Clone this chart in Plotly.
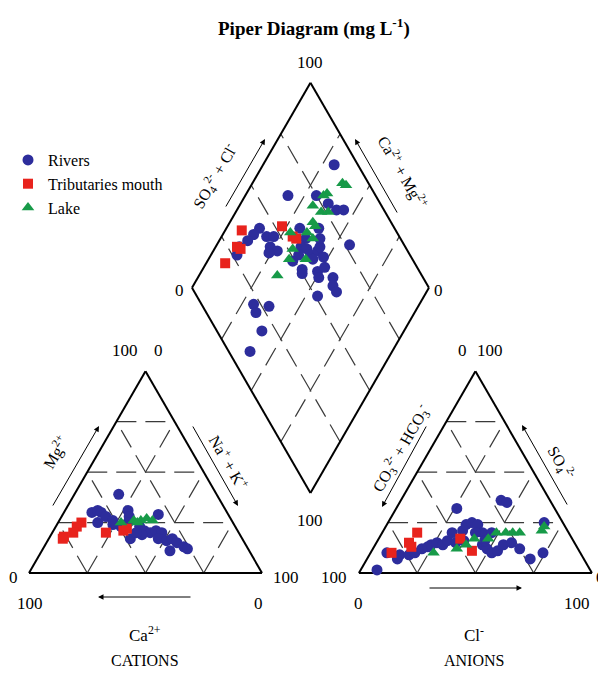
import math
import plotly.graph_objects as go

# ---------------- data (percentages) ----------------
# Cation triangle: Ca2+ %, Mg2+ %
rivers_ca = [42, 58, 55, 54, 53, 58, 51, 52, 42, 43, 45, 49, 48, 41, 40, 38, 30, 35, 33, 36, 33, 30, 34, 29, 27, 26, 42, 44]
rivers_mg = [39, 30, 31, 30, 28, 25, 26, 24, 31, 28, 25, 23, 17, 23, 21, 20, 29, 21, 20, 17, 16, 17, 11, 15, 13, 12, 19, 20]
trib_ca = [65, 68, 71, 76, 77, 57, 49, 47]
trib_mg = [25, 23, 20, 18, 17, 20, 21, 22]
lake_ca = [48, 42, 39, 36, 34, 41]
lake_mg = [25, 26, 26, 27, 26, 25]

# Anion triangle: Cl- %, SO4 2- %
rivers_cl = [7, 7, 13, 13, 17, 19, 21, 23, 24, 26, 29, 30, 30, 26, 34, 34, 34, 36, 39, 43, 40, 37, 46, 49, 52, 54, 43, 46, 55, 58, 63, 70, 74, 67, 47, 46]
rivers_so4 = [1.5, 10, 7, 9, 9, 10, 12, 13, 14, 15, 14, 16, 20, 32, 15, 21, 24, 25, 24, 20, 20, 16, 14, 12, 10, 11, 36, 35, 14, 15, 12, 7, 10, 25, 20, 16]
trib_cl = [15, 14, 16, 9, 35, 43]
trib_so4 = [20, 15, 13, 10, 17, 11]
lake_cl = [27, 36, 39, 47, 49, 53, 56, 59, 68, 68, 41]
lake_so4 = [10, 12, 14, 17, 20, 20, 20, 20, 21, 23, 17]

# Diamond: SO4+Cl %, Ca+Mg %
rivers_an = [90, 63, 75, 78, 80, 83, 43, 39, 35, 30, 27, 44, 47, 43, 45, 41, 60, 60, 56, 58, 58, 62, 64, 66, 68, 63, 58, 53, 49, 77, 51, 57, 61, 62, 50, 56, 60, 60, 51, 22, 28, 21, 19, 9]
rivers_cat = [70, 82, 70, 63, 58, 55, 86, 87, 88, 90, 89, 81, 78, 77, 73, 76, 69, 64, 64, 61, 58, 56, 56, 58, 61, 52, 56, 63, 64, 44, 58, 51, 49, 43, 57, 49, 41, 38, 45, 70, 63, 67, 60, 60]
trib_an = [35, 53, 29, 30, 20, 55, 56]
trib_cat = [93, 77, 91, 89, 92, 70, 68]
lake_an = [89, 90, 80, 78, 71, 73, 76, 67, 55, 62, 67, 63, 52, 48, 55, 39]
lake_cat = [62, 60, 66, 67, 69, 64, 61, 65, 72, 65, 63, 61, 67, 66, 59, 67]

tick_lo, tick_hi = "0", "100"
grid_fracs = [0.25, 0.5, 0.75]

# ---------------- geometry ----------------
WIN_W, WIN_H = 606, 677
PAD = 8                       # default page margin around the plot div
W, Hfig = WIN_W - PAD, WIN_H - PAD
K = 2.33                      # px per unit
OX, OY = 29 - PAD, 573 - PAD  # pixel of cation-triangle bottom-left (figure px)
S = 100.0
H = S * math.sqrt(3) / 2
GAP = 41.6
X2 = S + GAP
SD = 101.7
DW = SD / 2
DH = SD * math.sqrt(3) / 2
BX, BY = S + GAP / 2, 34.3


def cat_xy(ca, mg):
    xs = [S * (1 - c / 100 - m / 200) for c, m in zip(ca, mg)]
    ys = [H * m / 100 for m in mg]
    return xs, ys


def an_xy(cl, so4):
    xs = [X2 + S * (c / 100 + s / 200) for c, s in zip(cl, so4)]
    ys = [H * s / 100 for s in so4]
    return xs, ys


def dia_xy(a, c):
    xs = [BX + (p / 100 - q / 100) * DW for p, q in zip(a, c)]
    ys = [BY + (p / 100 + q / 100) * DH for p, q in zip(a, c)]
    return xs, ys


def dpt(a, c):
    return BX + (a - c) * DW, BY + (a + c) * DH


fig = go.Figure()

groups = [
    ("Rivers", rivers_ca, rivers_mg, rivers_cl, rivers_so4, rivers_an, rivers_cat,
     dict(symbol="circle", size=11, color="#2d2d9c")),
    ("Tributaries mouth", trib_ca, trib_mg, trib_cl, trib_so4, trib_an, trib_cat,
     dict(symbol="square", size=10, color="#e8231d")),
    ("Lake", lake_ca, lake_mg, lake_cl, lake_so4, lake_an, lake_cat,
     dict(symbol="triangle-up", size=11, color="#179a48")),
]
for name, ca, mg, cl, so4, an, cat, mk in groups:
    x1, y1 = cat_xy(ca, mg)
    x2, y2 = an_xy(cl, so4)
    x3, y3 = dia_xy(an, cat)
    fig.add_trace(go.Scatter(
        x=x1 + x2 + x3, y=y1 + y2 + y3, mode="markers", name=name,
        legendgroup=name, marker=dict(line=dict(width=0), **mk)))

shapes = []
solid = dict(color="black", width=2)
dashed = dict(color="#3a3a3a", width=1.2, dash="20px,9px")


def seg(p, q, line):
    shapes.append(dict(type="line", xref="x", yref="y", x0=p[0], y0=p[1],
                       x1=q[0], y1=q[1], line=line, layer="below"))


for ox in (0.0, X2):
    for f in grid_fracs:
        seg((ox + 50 * f, H * f), (ox + 100 - 50 * f, H * f), dashed)
        seg((ox + 100 * f, 0), (ox + 50 + 50 * f, H * (1 - f)), dashed)
        seg((ox + 100 * f, 0), (ox + 50 * f, H * f), dashed)
    seg((ox, 0), (ox + 100, 0), solid)
    seg((ox + 100, 0), (ox + 50, H), solid)
    seg((ox + 50, H), (ox, 0), solid)

for f in grid_fracs:
    seg(dpt(f, 0), dpt(f, 1), dashed)
    seg(dpt(0, f), dpt(1, f), dashed)
corners = [dpt(0, 0), dpt(1, 0), dpt(1, 1), dpt(0, 1), dpt(0, 0)]
for p, q in zip(corners[:-1], corners[1:]):
    seg(p, q, solid)

FONT = "Liberation Serif, Times New Roman, serif"
ann = []


def px(x):
    return (x - PAD) / W


def py(y):
    return 1 - (y - PAD) / Hfig


def label(x, y, text, size=17, angle=0):
    ann.append(dict(x=px(x), y=py(y), xref="paper", yref="paper", text=text,
                    showarrow=False, textangle=angle,
                    font=dict(family=FONT, size=size, color="black"),
                    xanchor="center", yanchor="middle"))


def arrow(tx, ty, hx, hy):
    ann.append(dict(x=px(hx), y=py(hy), xref="paper", yref="paper", text="",
                    showarrow=True, ax=tx - hx, ay=ty - hy, axref="pixel",
                    ayref="pixel", arrowhead=2, arrowsize=1.1, arrowwidth=1,
                    arrowcolor="black", standoff=0, startstandoff=0))


label(314, 27, "<b>Piper Diagram (mg L<sup>-1</sup>)</b>", size=19)

# diamond ticks
label(310, 62, tick_hi)
label(180, 290, tick_lo)
label(438, 290, tick_lo)
label(310, 520, tick_hi)
# cation triangle ticks
label(125, 350, tick_hi)
label(158, 350, tick_lo)
label(13, 577, tick_lo)
label(286, 577, tick_hi)
label(30, 603, tick_hi)
label(258, 603, tick_lo)
# anion triangle ticks
label(462, 350, tick_lo)
label(490, 350, tick_hi)
label(334, 577, tick_hi)
label(600, 577, tick_lo)
label(358, 603, tick_lo)
label(577, 603, tick_hi)

# axis names
label(145, 634, "Ca<sup>2+</sup>", size=17)
label(145, 660, "CATIONS", size=16)
label(474, 634, "Cl<sup>-</sup>", size=17)
label(474, 660, "ANIONS", size=16)

label(55, 452, "Mg<sup>2+</sup>", size=16, angle=-60)
label(229, 462, "Na<sup>+</sup> + K<sup>+</sup>", size=16, angle=60)
label(401, 448, "CO<sub>3</sub><sup>2-</sup> + HCO<sub>3</sub><sup>-</sup>", size=16, angle=-60)
label(561, 463, "SO<sub>4</sub><sup>2-</sup>", size=16, angle=60)
label(215, 176, "SO<sub>4</sub><sup>2-</sup> + Cl<sup>-</sup>", size=16, angle=-60)
label(402, 172, "Ca<sup>2+</sup> + Mg<sup>2+</sup>", size=16, angle=60)

# arrows
arrow(52, 507, 99, 426)
arrow(192, 425, 238, 506)
arrow(192, 597, 98, 597)
arrow(427, 425, 382, 507)
arrow(568, 506, 522, 425)
arrow(428, 588, 522, 588)
arrow(225, 208, 265, 139)
arrow(398, 214, 355, 139)

fig.update_layout(
    width=W, height=Hfig,
    margin=dict(l=0, r=0, t=0, b=0),
    paper_bgcolor="white", plot_bgcolor="white",
    xaxis=dict(range=[-OX / K, (W - OX) / K], visible=False, fixedrange=True),
    yaxis=dict(range=[(OY - Hfig) / K, OY / K], visible=False, fixedrange=True),
    shapes=shapes, annotations=ann,
    showlegend=True,
    legend=dict(x=0.0, y=py(143), xanchor="left", yanchor="top",
                font=dict(family=FONT, size=16, color="black"),
                bgcolor="rgba(0,0,0,0)", tracegroupgap=0,
                borderwidth=0),
    font=dict(family=FONT),
)

fig.write_html("out.html")
